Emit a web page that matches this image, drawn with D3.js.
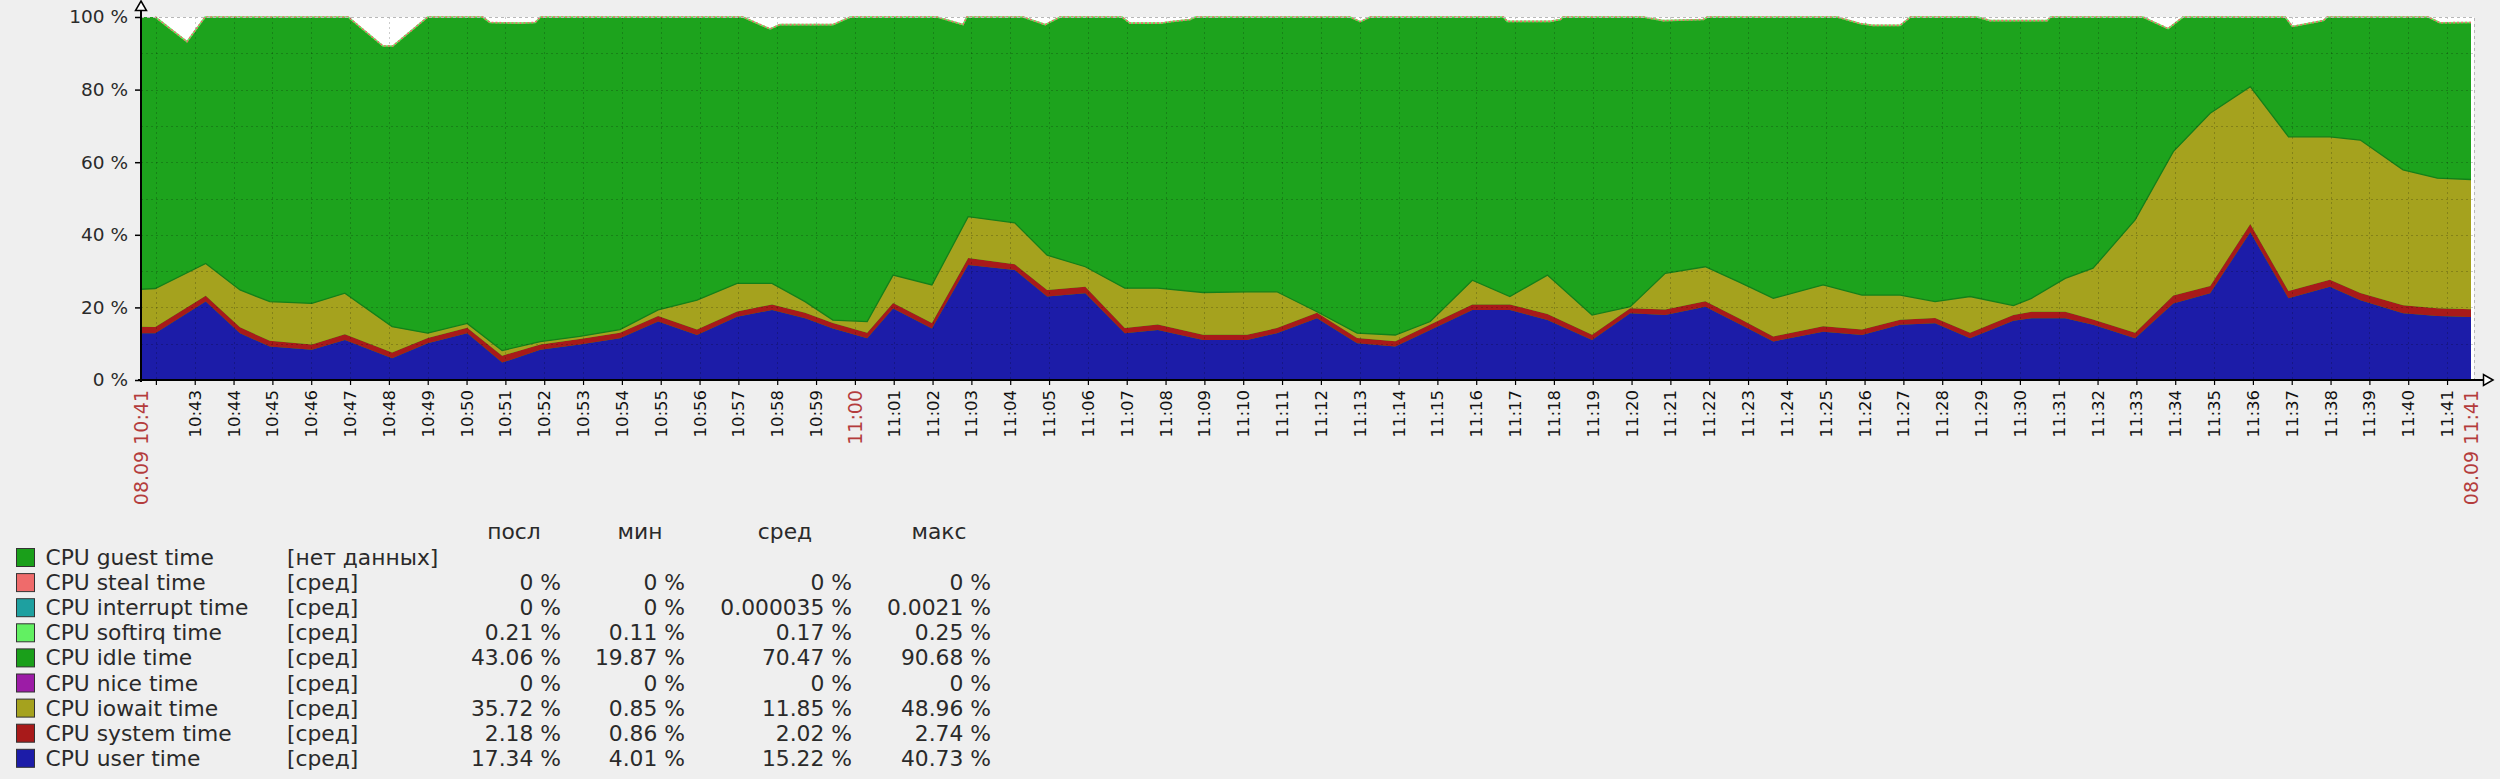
<!DOCTYPE html>
<html><head><meta charset="utf-8">
<script src="https://cdn.jsdelivr.net/npm/d3@7"></script>
<style>
html,body{margin:0;padding:0;background:#efefef;}
svg{display:block;font-family:"DejaVu Sans",sans-serif;}
</style></head><body>
<svg id="chart" width="2500" height="779"></svg>
<script>
// ---- data ----
const chartDay = "2016-09-08";
const rangeStart = "10:41:37";
const rangeEnd = "11:41:37";

const sampleTimes = ["10:41:37","10:41:59","10:43:17","10:44:10","10:44:56","10:46:01","10:46:52","10:48:05","10:49:00","10:50:01",
"10:50:55","10:51:54","10:52:55","10:53:57","10:54:56","10:55:56","10:56:58","10:57:52","10:58:43","10:59:26",
"11:00:19","11:00:59","11:01:59","11:02:55","11:04:07","11:04:57","11:05:56","11:06:57","11:07:48","11:08:58",
"11:10:06","11:10:52","11:11:54","11:12:56","11:13:55","11:14:49","11:15:54","11:16:52","11:17:50","11:18:59",
"11:19:58","11:20:52","11:21:54","11:22:48","11:23:39","11:24:56","11:25:56","11:26:55","11:27:49","11:28:43",
"11:29:50","11:30:18","11:31:10","11:31:53","11:32:58","11:33:57","11:34:54","11:35:56","11:36:55","11:37:59",
"11:38:46","11:39:52","11:40:45","11:41:37"];
const cpuUser = [12.9,12.9,21.6,12.9,9.2,8.3,11.0,6.0,10.1,12.9,
4.8,8.3,9.8,11.5,16.1,12.4,17.4,19.3,17.0,14.2,
11.5,19.7,14.2,31.7,30.3,23.0,23.9,12.9,13.8,11.0,
11.0,12.9,17.0,10.1,9.2,13.8,19.3,19.3,16.5,11.0,
18.4,17.9,20.2,15.3,10.6,13.3,12.4,15.2,15.6,11.5,
16.3,17.0,17.0,15.2,11.5,21.1,23.9,40.7,22.5,25.7,
22.0,18.4,17.6,17.34];
const cpuSystem = [1.8,1.7,1.6,1.6,1.6,1.5,1.6,1.6,1.5,1.5,
1.9,1.5,1.5,1.5,1.5,1.5,1.5,1.5,1.5,1.5,
1.5,1.5,1.5,1.9,1.6,1.8,1.8,1.4,1.5,1.5,
1.5,1.4,1.5,1.5,1.5,1.5,1.5,1.5,1.7,1.5,
1.4,1.5,1.5,1.5,1.4,1.5,1.5,1.4,1.5,1.5,
1.6,1.8,1.8,1.5,1.5,2.2,2.0,2.3,2.0,1.9,
2.0,2.2,2.2,2.18];
const cpuIowait = [10.3,10.6,8.9,10.3,10.8,11.3,11.3,7.1,1.3,1.2,
1.4,0.8,0.7,0.9,1.7,8.1,7.7,5.8,3.1,0.8,
3.1,7.7,10.5,11.4,11.4,9.6,5.5,11.0,10.0,11.6,
11.8,10.0,0.3,1.3,1.7,0.8,6.7,2.2,10.7,5.4,
0.4,10.0,9.5,10.0,10.5,11.4,9.5,6.8,4.5,10.0,
2.6,3.7,9.2,14.1,31.1,39.6,47.6,37.8,42.5,39.4,
42.1,37.3,35.8,35.72];

// sum of all stacked items (top of the stack), with its own sample times
const totalTimes = ["10:41:37","10:41:59","10:42:48","10:43:16","10:46:57","10:47:51","10:48:06","10:49:00","10:50:25","10:50:36",
"10:51:23","10:51:46","10:51:54","10:57:07","10:57:49","10:58:04","10:59:26","10:59:53","11:02:07","11:02:47",
"11:02:53","11:04:20","11:04:54","11:05:17","11:06:53","11:07:05","11:07:52","11:08:07","11:08:38","11:08:46",
"11:12:45","11:13:01","11:13:16","11:16:42","11:16:48","11:17:54","11:18:10","11:18:14","11:20:18","11:20:49",
"11:21:51","11:21:57","11:25:18","11:25:53","11:26:13","11:26:55","11:27:11","11:28:54","11:29:14","11:30:42",
"11:30:47","11:33:10","11:33:49","11:34:12","11:36:50","11:37:01","11:37:49","11:37:55","11:40:31","11:40:49",
"11:41:37"];
const totalValues = [100,100,93.2,100,100,92.0,92.0,100,100,98.5,
98.3,98.5,100,100,96.7,97.9,97.9,100,100,97.9,
100,100,97.9,100,100,98.3,98.3,98.7,99.3,100,
100,98.7,100,100,98.8,98.8,99.3,100,100,99.0,
99.3,100,100,98.2,97.7,97.7,100,100,99.0,99.0,
100,100,96.8,100,100,97.4,99.0,100,100,98.4,
98.5];

const yTicks = [0,20,40,60,80,100];
const yGrid = [10,20,30,40,50,60,70,80,90];

const legendNames = ["CPU guest time","CPU steal time","CPU interrupt time","CPU softirq time","CPU idle time","CPU nice time","CPU iowait time","CPU system time","CPU user time"];
const legendFuncs = ["[нет данных]","[сред]","[сред]","[сред]","[сред]","[сред]","[сред]","[сред]","[сред]"];
const legendColors = ["#1a9f1a","#ef6b6b","#1ea0a0","#62f062","#1a9f1a","#9c1ca6","#a5a21e","#a81a1a","#1c1ca8"];
const lastVals = ["","0 %","0 %","0.21 %","43.06 %","0 %","35.72 %","2.18 %","17.34 %"];
const minVals  = ["","0 %","0 %","0.11 %","19.87 %","0 %","0.85 %","0.86 %","4.01 %"];
const avgVals  = ["","0 %","0.000035 %","0.17 %","70.47 %","0 %","11.85 %","2.02 %","15.22 %"];
const maxVals  = ["","0 %","0.0021 %","0.25 %","90.68 %","0 %","48.96 %","2.74 %","40.73 %"];
const legendHeaders = ["посл","мин","сред","макс"];

// ---- drawing ----
(function () {
const parse = d3.timeParse("%Y-%m-%d %H:%M:%S");
const P = t => parse(chartDay + " " + t);
const svg = d3.select("#chart");

const pL = 141, pR = 2471, pT = 17, pB = 380;
const x = d3.scaleTime().domain([P(rangeStart), P(rangeEnd)]).range([pL, pR]);
const y = d3.scaleLinear().domain([0, 100]).range([pB, pT]);

const colors = {user:"#1c1ca8", system:"#a81a1a", iowait:"#a5a21e", idle:"#1da31d", softirq:"#62f062", steal:"#ef6b6b"};

svg.append("rect").attr("x", pL).attr("y", pT).attr("width", pR + 3 - pL).attr("height", pB - pT).attr("fill", "#ffffff");

const totals = totalTimes.map((t, i) => ({t: P(t), v: totalValues[i]}));
svg.append("path").datum(totals)
  .attr("fill", colors.idle)
  .attr("d", d3.area().x(d => x(d.t)).y0(y(0)).y1(d => y(d.v)));

const rows = sampleTimes.map((t, i) => ({t: P(t), user: cpuUser[i], system: cpuSystem[i], iowait: cpuIowait[i]}));
const keys = ["user", "system", "iowait"];
const series = d3.stack().keys(keys)(rows);
const area = d3.area().x(d => x(d.data.t)).y0(d => y(d[0])).y1(d => y(d[1]));
svg.append("g").selectAll("path").data(series).join("path")
  .attr("fill", d => colors[d.key])
  .attr("d", area);
svg.append("path").datum(series[2])
  .attr("fill", "none").attr("stroke", "#13801a").attr("stroke-width", 1.3)
  .attr("d", d3.line().x(d => x(d.data.t)).y(d => y(d[1])));

const near = (i) => totals[i].v < 100 || (i > 0 && totals[i-1].v < 100) || (i < totals.length - 1 && totals[i+1].v < 100);
const topLine = d3.line().defined((d, i) => near(i)).x(d => x(d.t)).y(d => y(d.v));
svg.append("path").datum(totals).attr("fill", "none").attr("stroke", colors.softirq).attr("stroke-width", 1.6).attr("d", topLine);
svg.append("path").datum(totals).attr("fill", "none").attr("stroke", colors.steal).attr("stroke-width", 1.6)
  .attr("stroke-dasharray", "2,2").attr("d", topLine);

const minutes = d3.timeMinute.range(d3.timeMinute.ceil(P(rangeStart)), x.domain()[1]);
const grid = svg.append("g").attr("stroke", "rgba(0,0,0,0.2)").attr("stroke-width", 1).attr("stroke-dasharray", "2,3");
grid.selectAll("line.h").data(yGrid).join("line").attr("class", "h")
  .attr("x1", pL).attr("x2", pR + 3).attr("y1", d => Math.round(y(d)) + 0.5).attr("y2", d => Math.round(y(d)) + 0.5);
grid.selectAll("line.v").data(minutes).join("line").attr("class", "v")
  .attr("x1", d => Math.round(x(d)) + 0.5).attr("x2", d => Math.round(x(d)) + 0.5).attr("y1", pT).attr("y2", pB);
svg.append("path").attr("fill", "none").attr("stroke", "#b8b8b8").attr("stroke-dasharray", "3,3")
  .attr("d", `M${pL},${pT + 0.5}H${pR + 3.5}V${pB}`);

const yAxis = d3.axisLeft(y).tickValues(yTicks).tickFormat(d => d + " %").tickSize(6).tickPadding(7);
const gy = svg.append("g").attr("transform", `translate(${pL},0)`).call(yAxis);
gy.select(".domain").remove();
gy.selectAll("text").attr("font-size", 18.5).attr("fill", "#2a2a2a").attr("font-family", "DejaVu Sans");
gy.selectAll("line").attr("stroke", "#000").attr("stroke-width", 1.5);

const xAxis = d3.axisBottom(x).tickValues(minutes).tickSize(5).tickFormat("");
const gx = svg.append("g").attr("transform", `translate(0,${pB})`).call(xAxis);
gx.select(".domain").remove();
gx.selectAll("line").attr("stroke", "#000").attr("stroke-width", 1.2);

const fmt = d3.timeFormat("%H:%M");
const labelMinutes = minutes.filter(d => x(d) - pL > 30);
svg.append("g").selectAll("text").data(labelMinutes).join("text")
  .attr("transform", d => `translate(${x(d)},390) rotate(-90)`)
  .attr("text-anchor", "end").attr("dy", "0.36em")
  .attr("font-size", d => d.getMinutes() === 0 ? 19 : 16.5)
  .attr("fill", d => d.getMinutes() === 0 ? "#b43c3c" : "#111")
  .text(fmt);
const dateFmt = d3.timeFormat("%d.%m %H:%M");
svg.append("g").selectAll("text").data(x.domain()).join("text")
  .attr("transform", d => `translate(${x(d)},390) rotate(-90)`)
  .attr("text-anchor", "end").attr("dy", "0.36em")
  .attr("font-size", 19).attr("fill", "#b43c3c")
  .text(dateFmt);

svg.append("line").attr("x1", pL).attr("x2", pL).attr("y1", 9).attr("y2", pB + 2).attr("stroke", "#000").attr("stroke-width", 2);
svg.append("line").attr("x1", pL - 3).attr("x2", 2484).attr("y1", pB).attr("y2", pB).attr("stroke", "#000").attr("stroke-width", 2);
svg.append("path").attr("d", `M${pL},1L${pL + 5.5},10.5L${pL - 5.5},10.5Z`).attr("fill", "#fff").attr("stroke", "#000").attr("stroke-width", 1.5);
svg.append("path").attr("d", `M2493,${pB}L2483.5,${pB - 5.5}L2483.5,${pB + 5.5}Z`).attr("fill", "#fff").attr("stroke", "#000").attr("stroke-width", 1.5);

const lg = svg.append("g").attr("font-size", 21.8).attr("fill", "#2a2a2a");
const headerX = [514, 640, 785, 939];
lg.selectAll("text.hdr").data(legendHeaders).join("text").attr("class", "hdr")
  .attr("x", (d, i) => headerX[i]).attr("y", 539).attr("text-anchor", "middle").text(d => d);
const rowY = i => 557.5 + i * 25.1;
const rowsG = lg.selectAll("g.row").data(legendNames).join("g").attr("class", "row")
  .attr("transform", (d, i) => `translate(0,${rowY(i)})`);
rowsG.append("rect").attr("x", 16.5).attr("y", -9).attr("width", 18).attr("height", 18)
  .attr("fill", (d, i) => legendColors[i]).attr("stroke", "#333").attr("stroke-width", 1);
rowsG.append("text").attr("x", 45.5).attr("y", 7.5).text(d => d);
rowsG.append("text").attr("x", 287).attr("y", 7.5).text((d, i) => legendFuncs[i]);
const colRight = [561, 685, 852, 991];
[lastVals, minVals, avgVals, maxVals].forEach((arr, c) => {
  rowsG.append("text").attr("x", colRight[c]).attr("y", 7.5).attr("text-anchor", "end").text((d, i) => arr[i]);
});
})();
</script>
</body></html>
